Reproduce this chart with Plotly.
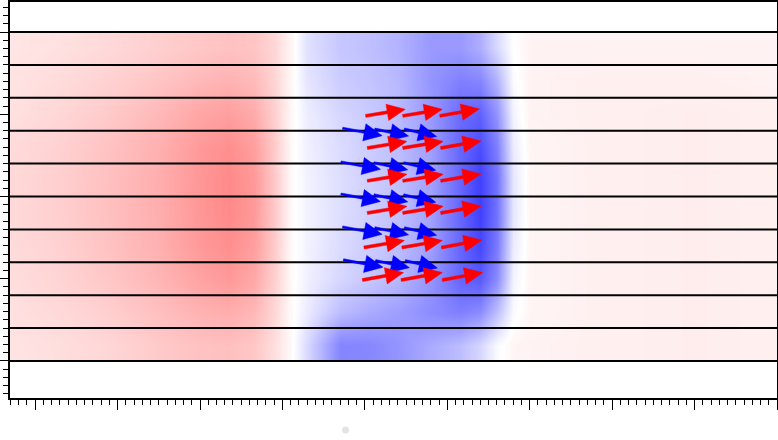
import numpy as np
import plotly.graph_objects as go

# field sampled on band centres (y) and columns (x); -1 = red, 0 = white, 1 = blue
heat_x = [-0.3, 0.3, 0.9, 1.5, 2.0, 2.35, 2.65, 2.9, 3.1, 3.3, 3.7,
          4.05, 4.4, 4.8, 5.15, 5.4, 5.6, 5.8, 6.0, 6.8, 8.0, 9.0]
heat_y = [0.2, 0.6, 1.0, 1.4, 1.8, 2.2, 2.6, 3.0, 3.4, 3.8]
heat_z = [
    [-0.11, -0.13, -0.16, -0.21, -0.24, -0.25, -0.22, -0.13, -0.02,
     0.15, 0.48, 0.47, 0.42, 0.33, 0.26, 0.16, 0.02, -0.04, -0.05, -0.06, -0.07, -0.06],
    [-0.12, -0.15, -0.19, -0.25, -0.30, -0.32, -0.28, -0.16, -0.02,
     0.08, 0.26, 0.33, 0.38, 0.45, 0.50, 0.45, 0.25, 0.02, -0.04, -0.06, -0.07, -0.06],
    [-0.13, -0.17, -0.22, -0.29, -0.36, -0.40, -0.34, -0.19, -0.02,
     0.06, 0.16, 0.22, 0.28, 0.42, 0.60, 0.65, 0.45, 0.05, -0.04, -0.06, -0.07, -0.06],
    [-0.14, -0.18, -0.24, -0.31, -0.40, -0.44, -0.38, -0.21, -0.02,
     0.05, 0.14, 0.20, 0.26, 0.38, 0.60, 0.72, 0.52, 0.08, -0.04, -0.06, -0.07, -0.06],
    [-0.15, -0.19, -0.25, -0.32, -0.41, -0.46, -0.40, -0.22, -0.02,
     0.05, 0.13, 0.19, 0.25, 0.37, 0.60, 0.75, 0.55, 0.10, -0.04, -0.06, -0.07, -0.06],
    [-0.15, -0.19, -0.25, -0.32, -0.41, -0.46, -0.40, -0.22, -0.02,
     0.05, 0.13, 0.19, 0.25, 0.37, 0.60, 0.75, 0.55, 0.10, -0.04, -0.06, -0.07, -0.06],
    [-0.14, -0.18, -0.24, -0.31, -0.40, -0.44, -0.38, -0.21, -0.02,
     0.06, 0.14, 0.20, 0.26, 0.38, 0.60, 0.70, 0.50, 0.08, -0.04, -0.06, -0.07, -0.06],
    [-0.12, -0.16, -0.21, -0.28, -0.35, -0.38, -0.33, -0.19, -0.03,
     0.07, 0.16, 0.21, 0.27, 0.40, 0.58, 0.62, 0.42, 0.05, -0.05, -0.06, -0.07, -0.06],
    [-0.11, -0.14, -0.18, -0.23, -0.28, -0.30, -0.27, -0.17, -0.03,
     0.10, 0.20, 0.23, 0.28, 0.42, 0.50, 0.48, 0.30, 0.02, -0.05, -0.06, -0.06, -0.05],
    [-0.10, -0.12, -0.15, -0.19, -0.22, -0.24, -0.23, -0.16, -0.04,
     0.12, 0.22, 0.25, 0.30, 0.40, 0.40, 0.32, 0.15, 0.00, -0.05, -0.05, -0.05, -0.05],
]

# horizontal black lines
line_levels = [0.0, 0.4, 0.8, 1.2, 1.6, 2.0, 2.4, 2.8, 3.2, 3.6, 4.0]

# red arrows: tails and components
red_x = [4.01, 4.46, 4.91, 4.03, 4.46, 4.92, 4.03, 4.46, 4.92,
         4.03, 4.46, 4.92, 3.99, 4.45, 4.93, 3.97, 4.44, 4.94]
red_y = [2.98, 2.98, 2.98, 2.59, 2.59, 2.59, 2.19, 2.19, 2.19,
         1.80, 1.80, 1.80, 1.38, 1.38, 1.38, 0.985, 0.985, 0.985]
red_u = [0.48, 0.48, 0.48, 0.48, 0.49, 0.49, 0.48, 0.49, 0.49,
         0.48, 0.49, 0.49, 0.49, 0.49, 0.49, 0.50, 0.50, 0.49]
red_v = [0.08, 0.08, 0.085, 0.08, 0.08, 0.085, 0.08, 0.08, 0.085,
         0.08, 0.08, 0.085, 0.085, 0.085, 0.09, 0.09, 0.09, 0.09]

# blue arrows
blue_x = [3.73, 4.12, 4.48, 3.71, 4.11, 4.47, 3.71, 4.11, 4.47,
          3.73, 4.12, 4.48, 3.74, 4.13, 4.49]
blue_y = [2.83, 2.82, 2.82, 2.42, 2.41, 2.41, 2.03, 2.02, 2.02,
          1.63, 1.62, 1.62, 1.23, 1.22, 1.22]
blue_u = [0.48, 0.41, 0.39, 0.48, 0.41, 0.39, 0.48, 0.41, 0.39,
          0.48, 0.41, 0.39, 0.48, 0.41, 0.39]
blue_v = [-0.09, -0.085, -0.09, -0.09, -0.085, -0.09, -0.09, -0.085, -0.09,
          -0.09, -0.085, -0.09, -0.09, -0.085, -0.09]

x_range = [-0.305, 9.0]
y_range = [-0.45, 4.365]


def arrow_polys(xs, ys, us, vs, head_len, head_half, shaft_half):
    # filled quiver-style arrows, one closed path per arrow
    px, py = [], []
    for x0, y0, u, v in zip(xs, ys, us, vs):
        length = np.hypot(u, v)
        dx, dy = u / length, v / length
        nx_, ny_ = -dy, dx
        tx, ty = x0 + u, y0 + v
        bx, by = tx - head_len * dx, ty - head_len * dy
        pts = [
            (x0 + shaft_half * nx_, y0 + shaft_half * ny_),
            (bx + shaft_half * nx_, by + shaft_half * ny_),
            (bx + head_half * nx_, by + head_half * ny_),
            (tx, ty),
            (bx - head_half * nx_, by - head_half * ny_),
            (bx - shaft_half * nx_, by - shaft_half * ny_),
            (x0 - shaft_half * nx_, y0 - shaft_half * ny_),
        ]
        pts.append(pts[0])
        px += [p[0] for p in pts] + [None]
        py += [p[1] for p in pts] + [None]
    return px, py


fig = go.Figure()

fig.add_trace(go.Heatmap(
    x=heat_x, y=heat_y, z=heat_z,
    zsmooth='best', zmin=-1, zmax=1,
    colorscale=[[0, 'rgb(255,0,0)'], [0.5, 'rgb(255,255,255)'], [1, 'rgb(0,0,255)']],
    showscale=False, hoverinfo='skip'
))

lx, ly = [], []
for lev in line_levels:
    lx += [x_range[0], x_range[1], None]
    ly += [lev, lev, None]
fig.add_trace(go.Scatter(x=lx, y=ly, mode='lines',
                         line=dict(color='black', width=2), hoverinfo='skip'))

bx_, by_ = arrow_polys(blue_x, blue_y, blue_u, blue_v, 0.22, 0.105, 0.013)
fig.add_trace(go.Scatter(x=bx_, y=by_, mode='lines', fill='toself',
                         fillcolor='#0000ff', line=dict(color='#0000ff', width=0.5),
                         hoverinfo='skip'))

rx_, ry_ = arrow_polys(red_x, red_y, red_u, red_v, 0.22, 0.1, 0.018)
fig.add_trace(go.Scatter(x=rx_, y=ry_, mode='lines', fill='toself',
                         fillcolor='#ff0000', line=dict(color='#ff0000', width=0.5),
                         hoverinfo='skip'))

axis_style = dict(
    showline=True, linecolor='black', linewidth=2, mirror=True,
    ticks='outside', ticklen=10, tickwidth=1.2, tickcolor='black',
    tick0=0, dtick=1, showticklabels=False, showgrid=False, zeroline=False,
    automargin=False,
    minor=dict(ticks='outside', ticklen=5, tickwidth=1.2, tickcolor='black',
               dtick=0.1, tick0=0, showgrid=False),
)
fig.update_xaxes(range=x_range, **axis_style)
fig.update_yaxes(range=y_range, **axis_style)

fig.add_shape(type='circle', xref='paper', yref='paper',
              x0=0.433, x1=0.442, y0=-0.09, y1=-0.072,
              fillcolor='#e4e4e4', line=dict(width=0))

fig.update_layout(
    width=778, height=440,
    margin=dict(l=10, r=1, t=2, b=42),
    plot_bgcolor='white', paper_bgcolor='white',
    showlegend=False,
)

# page body has a default 8px margin; drop it so the figure sits at the corner
fig.write_html("out.html", config={'displayModeBar': False},
               post_script="document.body.style.margin='0px';")
